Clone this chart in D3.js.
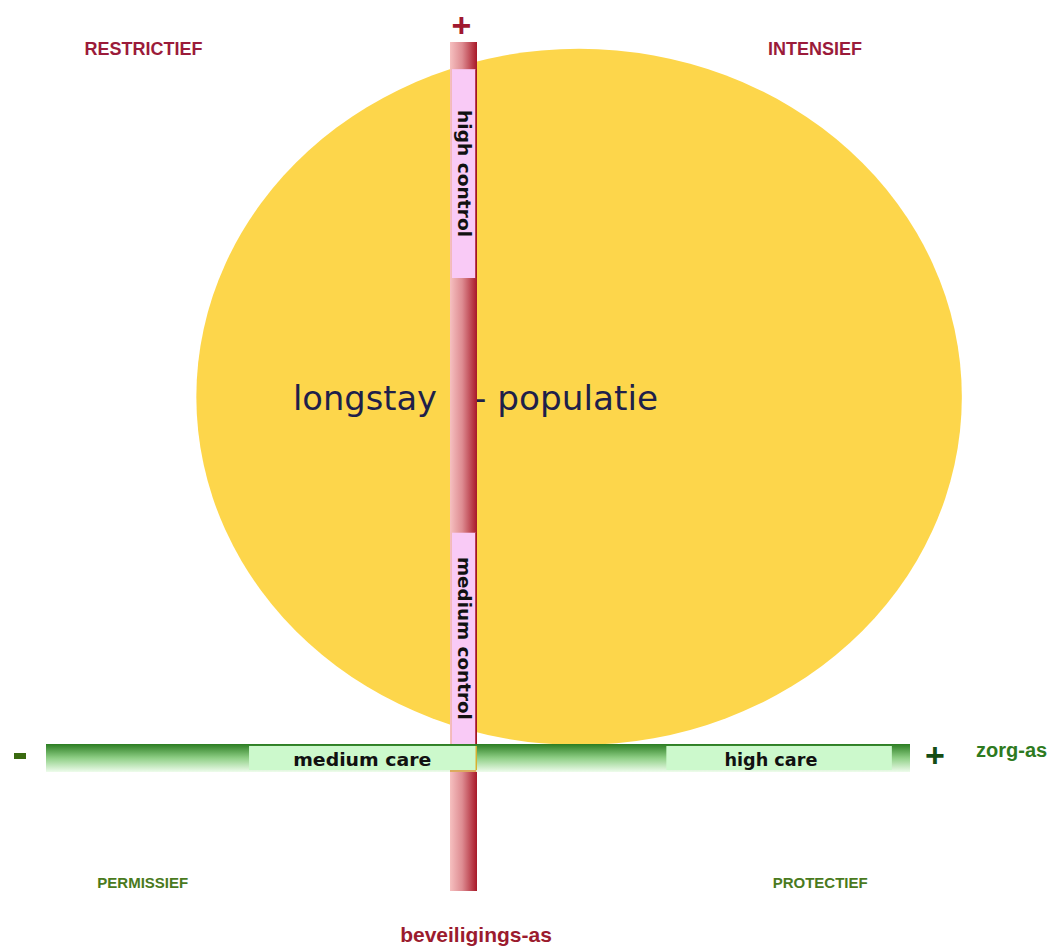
<!DOCTYPE html>
<html><head><meta charset="utf-8">
<script src="https://cdn.jsdelivr.net/npm/d3@7"></script>
<style>body{margin:0;background:#fff}svg{display:block}</style>
</head><body>
<svg id="c" width="1056" height="947"></svg>
<script>
// Data
const careSegments = [
  {label: "medium care", from: 23.5, to: 49.8, textAt: 36.6},
  {label: "high care", from: 71.8, to: 97.9, textAt: 83.9}
];
const controlSegments = [
  {label: "high control", from: 72.2, to: 96.8},
  {label: "medium control", from: 17.3, to: 42.2}
];
const populationParts = ["longstay", "- populatie"];
const population = [{care: 61.7, control: 58.2, careRadius: 44.3, controlRadius: 41.0}];
const quadrantLabels = [
  {label: "RESTRICTIEF", care: 11.3, control: 98.5, size: 18, color: "#9b1b3a"},
  {label: "INTENSIEF", care: 89.0, control: 98.5, size: 18, color: "#9b1b3a"},
  {label: "PERMISSIEF", care: 11.2, control: 0.35, size: 15, color: "#4a7a20"},
  {label: "PROTECTIEF", care: 89.6, control: 0.35, size: 15, color: "#4a7a20"}
];
const axisNames = {care: "zorg-as", control: "beveiligings-as"};

const svg = d3.select("#c");
const x = d3.scaleLinear().domain([0, 100]).range([46, 910]);
const y = d3.scaleLinear().domain([0, 100]).range([891, 42]);
const axisX = 463.5;
const barW = 27;
const hTop = 744, hH = 28;
const careTextW = [138, 93];
const ctlTextW = [127, 163];

const defs = svg.append("defs");
const vg = defs.append("linearGradient").attr("id","vg").attr("x1","0").attr("x2","1").attr("y1","0").attr("y2","0");
vg.append("stop").attr("offset","0").attr("stop-color","#f6c0c0");
vg.append("stop").attr("offset","0.45").attr("stop-color","#de8c92");
vg.append("stop").attr("offset","1").attr("stop-color","#a81828");
const hg = defs.append("linearGradient").attr("id","hg").attr("x1","0").attr("x2","0").attr("y1","0").attr("y2","1");
hg.append("stop").attr("offset","0").attr("stop-color","#2b7d22");
hg.append("stop").attr("offset","0.5").attr("stop-color","#8fcf86");
hg.append("stop").attr("offset","1").attr("stop-color","#eefcec");

// ellipse
svg.selectAll("ellipse.pop").data(population).join("ellipse").attr("class","pop")
  .attr("cx", d => x(d.care)).attr("cy", d => y(d.control))
  .attr("rx", d => x(d.careRadius) - x(0)).attr("ry", d => y(0) - y(d.controlRadius))
  .attr("fill", "#fdd64b");

const popPos = [{x: 293, w: 144}, {x: 474, w: 184}];
svg.selectAll("text.pop").data(populationParts).join("text").attr("class","pop")
  .attr("x", (d,i) => popPos[i].x).attr("y", 410)
  .attr("textLength", (d,i) => popPos[i].w).attr("lengthAdjust","spacingAndGlyphs")
  .attr("font-family","DejaVu Sans, Verdana, sans-serif").attr("font-size", 34)
  .attr("fill","#1f1f4a").text(d => d);

// vertical control axis
svg.append("rect").attr("x", axisX - barW/2).attr("y", y(100)).attr("width", barW).attr("height", y(0)-y(100)).attr("fill","url(#vg)");
svg.selectAll("rect.ctl").data(controlSegments).join("rect").attr("class","ctl")
  .attr("x", axisX - barW/2 + 2).attr("y", d => y(d.to)).attr("width", barW-3).attr("height", d => y(d.from)-y(d.to))
  .attr("fill","#f9caf6");
svg.selectAll("line.ctl").data(controlSegments).join("line").attr("class","ctl")
  .attr("x1", axisX + barW/2 - 1).attr("x2", axisX + barW/2 - 1)
  .attr("y1", d => y(d.to)).attr("y2", d => y(d.from)).attr("stroke","#a01020").attr("stroke-width",1.5);
svg.selectAll("text.ctl").data(controlSegments).join("text").attr("class","ctl")
  .attr("transform", d => `translate(${axisX-6},${(y(d.from)+y(d.to))/2}) rotate(90)`)
  .attr("text-anchor","middle")
  .attr("textLength", (d,i) => ctlTextW[i]).attr("lengthAdjust","spacingAndGlyphs")
  .attr("font-family","DejaVu Sans, Verdana, sans-serif").attr("font-weight","bold").attr("font-size",17)
  .attr("fill","#111").text(d => d.label);

// horizontal care axis (drawn over the control axis)
svg.append("rect").attr("x", x(0)).attr("y", hTop).attr("width", x(100)-x(0)).attr("height", hH).attr("fill","url(#hg)");
svg.selectAll("rect.care").data(careSegments).join("rect").attr("class","care")
  .attr("x", d => x(d.from)).attr("y", hTop+2).attr("width", d => x(d.to)-x(d.from)).attr("height", hH-4)
  .attr("fill","#ccf9cc");
svg.append("line").attr("x1", x(careSegments[0].to)).attr("x2", x(careSegments[0].to))
  .attr("y1", hTop+2).attr("y2", hTop+hH-2).attr("stroke","#d8b030").attr("stroke-width",1.5);
svg.append("line").attr("x1", axisX - barW/2).attr("x2", x(careSegments[0].to))
  .attr("y1", hTop+hH-1).attr("y2", hTop+hH-1).attr("stroke","#d89030").attr("stroke-width",1.5);
svg.selectAll("text.care").data(careSegments).join("text").attr("class","care")
  .attr("x", d => x(d.textAt)).attr("y", hTop+22).attr("text-anchor","middle")
  .attr("textLength", (d,i) => careTextW[i]).attr("lengthAdjust","spacingAndGlyphs")
  .attr("font-family","DejaVu Sans, Verdana, sans-serif").attr("font-weight","bold").attr("font-size",17)
  .attr("fill","#111").text(d => d.label);

// axis end signs
svg.append("text").attr("x", axisX-2).attr("y", 37).attr("text-anchor","middle")
  .attr("font-family","Liberation Sans, Arial, sans-serif").attr("font-weight","bold").attr("font-size",34)
  .attr("fill","#a01830").text("+");
svg.append("rect").attr("x", 14).attr("y", 753).attr("width", 12).attr("height", 6).attr("fill","#3a6a10");
svg.append("text").attr("x", 935).attr("y", 767).attr("text-anchor","middle")
  .attr("font-family","Liberation Sans, Arial, sans-serif").attr("font-weight","bold").attr("font-size",34)
  .attr("fill","#154d15").text("+");
svg.append("text").attr("x", 976).attr("y", 757)
  .attr("font-family","Liberation Sans, Arial, sans-serif").attr("font-weight","bold").attr("font-size",20)
  .attr("fill","#2e7a20").text(axisNames.care);
svg.append("text").attr("x", 476).attr("y", 942).attr("text-anchor","middle")
  .attr("font-family","Liberation Sans, Arial, sans-serif").attr("font-weight","bold").attr("font-size",21)
  .attr("fill","#9b1b2e").text(axisNames.control);

// quadrant labels
svg.selectAll("text.q").data(quadrantLabels).join("text").attr("class","q")
  .attr("x", d => x(d.care)).attr("y", d => y(d.control)).attr("text-anchor","middle")
  .attr("font-family","Liberation Sans, Arial, sans-serif").attr("font-weight","bold").attr("font-size", d => d.size)
  .attr("fill", d => d.color).text(d => d.label);
</script>
</body></html>
